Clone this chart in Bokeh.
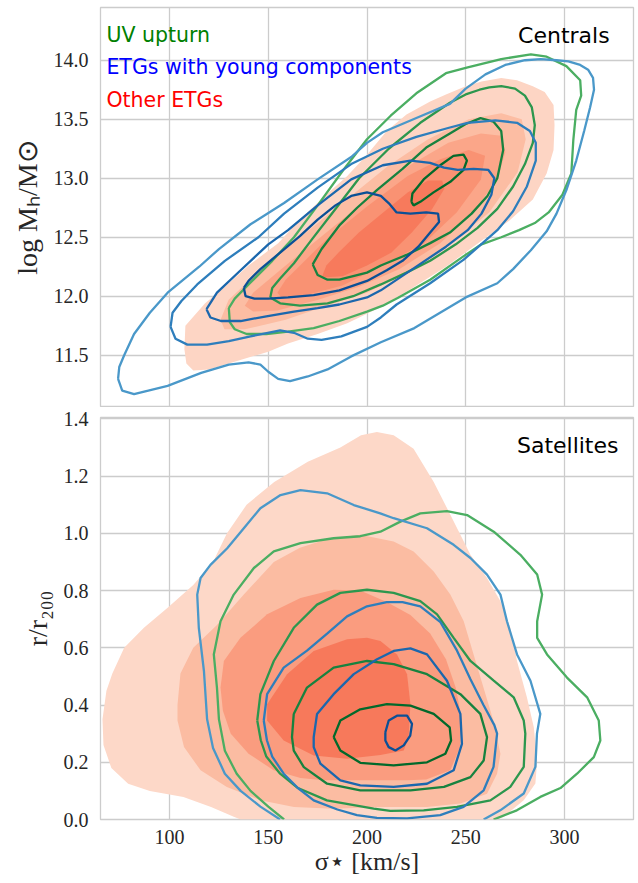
from bokeh.plotting import figure
from bokeh.layouts import column
from bokeh.models import Range1d, FixedTicker, NumeralTickFormatter, Label
from bokeh.embed import file_html
from bokeh.resources import INLINE

# ------------------------------------------------------------------ data
sigma_ticks = [100, 150, 200, 250, 300]
cen_ticks = [11.5, 12.0, 12.5, 13.0, 13.5, 14.0]
sat_ticks = [0.0, 0.2, 0.4, 0.6, 0.8, 1.0, 1.2, 1.4]

legend_names = ["UV upturn", "ETGs with young components", "Other ETGs"]
legend_colors = ["#008000", "#0000ff", "#ff0000"]
panel_names = ["Centrals", "Satellites"]

# KDE contour levels (outer -> inner): sigma [km/s]
# Centrals: log M_H
cen_other_x = [
    [108, 107.5, 108.5, 112, 120, 130, 140, 150, 160, 175, 190, 206, 222, 240, 258, 272, 284, 291, 294.5, 295,
     294.5, 290, 284, 276, 268, 258, 250, 240, 232, 220, 210, 200, 190, 180, 166, 155, 140, 128, 118],
    [125.8, 129.9, 148.5, 169.1, 189.7, 210.3, 230.9, 251.5, 268, 278.4, 280.4, 276.3, 261.9, 241.2, 220.6,
     200, 179.4, 158.8, 138.1, 127.8],
    [138.1, 142.3, 158.8, 179.4, 200, 220.6, 241.2, 257.7, 268, 270.1, 266, 253.6, 237.1, 216.5, 195.9, 175.3,
     154.6, 142.3],
    [154.6, 158.8, 179.4, 200, 220.6, 237.1, 251.5, 259.8, 257.7, 245.4, 228.9, 208.2, 187.6, 167, 156.7],
    [177.3, 179.4, 185.6, 195.9, 208.2, 220.6, 230.9, 238.1, 239.2, 233, 222.7, 212.4, 200, 187.6, 179.4],
]
cen_other_y = [
    [11.75, 11.55, 11.43, 11.37, 11.38, 11.43, 11.48, 11.53, 11.60, 11.68, 11.77, 11.90, 12.06, 12.25, 12.47,
     12.64, 12.82, 13.04, 13.24, 13.45, 13.62, 13.73, 13.78, 13.83, 13.85, 13.82, 13.78, 13.71, 13.65, 13.54,
     13.40, 13.20, 13.02, 12.87, 12.65, 12.45, 12.26, 12.08, 11.94],
    [11.80, 11.97, 12.26, 12.54, 12.82, 13.10, 13.33, 13.50, 13.55, 13.50, 13.33, 13.05, 12.71, 12.43, 12.20,
     12.03, 11.92, 11.80, 11.72, 11.72],
    [11.92, 12.03, 12.26, 12.54, 12.82, 13.10, 13.30, 13.38, 13.36, 13.22, 12.99, 12.71, 12.45, 12.23, 12.08,
     11.97, 11.88, 11.87],
    [12.03, 12.14, 12.48, 12.76, 13.02, 13.16, 13.24, 13.19, 12.99, 12.71, 12.45, 12.26, 12.09, 12.00, 11.99],
    [12.17, 12.26, 12.37, 12.54, 12.71, 12.88, 12.98, 12.98, 12.91, 12.74, 12.54, 12.37, 12.26, 12.17, 12.16],
]
cen_uv_x = [
    [130, 130.5, 133, 139, 149, 160, 173, 186, 200, 208, 216, 232, 249, 258, 268, 277, 285, 292, 299, 303.5,
     304.5, 306, 308.5, 308, 301, 291, 283, 268, 251, 240, 225, 212, 200, 188, 175, 163, 152, 140, 133],
    [151, 156, 166, 180, 193, 207, 220, 232, 245, 256, 266, 274, 280, 284, 285, 283.5, 280, 275, 268, 262, 257,
     250, 242, 227, 211, 196, 184.5, 172, 163, 156, 152],
    [172.5, 175, 180, 186, 200, 207, 220, 232, 242, 253, 261, 266, 269, 268, 264, 257.5, 250, 242, 230, 218,
     205, 195, 186, 177],
    [222.5, 223, 228.7, 237.1, 243.8, 248.9, 250.6, 248.9, 242.2, 233.7, 227, 223.6],
]
cen_uv_y = [
    [11.90, 11.78, 11.72, 11.68, 11.68, 11.70, 11.73, 11.79, 11.87, 11.92, 11.99, 12.14, 12.34, 12.44, 12.50,
     12.56, 12.62, 12.71, 12.86, 13.04, 13.32, 13.58, 13.70, 13.83, 13.95, 14.03, 14.05, 14.01, 13.94, 13.89,
     13.72, 13.53, 13.33, 13.07, 12.77, 12.50, 12.30, 12.10, 11.98],
    [11.99, 11.94, 11.92, 11.94, 12.00, 12.10, 12.20, 12.30, 12.44, 12.58, 12.74, 12.93, 13.12, 13.30, 13.45,
     13.60, 13.70, 13.76, 13.78, 13.77, 13.75, 13.71, 13.64, 13.47, 13.25, 13.00, 12.75, 12.48, 12.28, 12.15,
     12.07],
    [12.27, 12.18, 12.14, 12.14, 12.20, 12.26, 12.35, 12.45, 12.54, 12.70, 12.85, 13.00, 13.24, 13.40, 13.48,
     13.51, 13.46, 13.38, 13.26, 13.08, 12.90, 12.75, 12.60, 12.40],
    [12.80, 12.87, 12.99, 13.11, 13.19, 13.20, 13.15, 13.07, 12.97, 12.88, 12.80, 12.77],
]
cen_young_x = [
    [73.9, 76, 82, 99, 116, 130, 140, 146, 150, 155, 161, 170, 180, 192, 207, 224, 250, 266, 274, 283, 291, 296,
     301, 306, 310, 313, 315, 314.5, 312, 308, 302, 296, 288, 280, 270, 260, 250, 242, 225, 208, 200, 192, 175,
     158, 141, 125, 115, 99, 90, 82, 77, 74.5],
    [100.5, 103, 109, 119, 130, 141, 156, 163, 170, 177, 187, 200, 207, 215, 232, 249, 266, 274, 281, 285.5,
     285.5, 282.5, 276, 265, 251, 242, 225, 208, 192, 175, 158, 145, 128, 114, 106, 101.5],
    [118.7, 120.7, 126, 136, 149, 163, 175, 186, 200, 207, 224, 240, 251, 258, 263, 264.5, 261.5, 254, 246, 239,
     232, 222, 208, 192, 175, 160, 150, 136, 124],
    [137.6, 138.5, 143, 150, 160, 173, 186, 200, 210, 218, 226, 232, 236.5, 236, 230, 222, 215, 211.5, 207, 200,
     192, 184, 175, 166, 156, 146, 140],
]
cen_young_y = [
    [11.30, 11.20, 11.17, 11.24, 11.35, 11.42, 11.44, 11.42, 11.36, 11.30, 11.28, 11.32, 11.38, 11.49, 11.61,
     11.73, 11.99, 12.11, 12.23, 12.39, 12.55, 12.70, 12.90, 13.15, 13.40, 13.60, 13.75, 13.85, 13.92, 13.96,
     13.99, 14.00, 14.01, 14.00, 13.96, 13.88, 13.76, 13.63, 13.51, 13.39, 13.30, 13.18, 12.99, 12.79, 12.61,
     12.40, 12.25, 12.03, 11.86, 11.68, 11.50, 11.40],
    [11.74, 11.64, 11.59, 11.59, 11.62, 11.66, 11.71, 11.69, 11.64, 11.63, 11.66, 11.74, 11.82, 11.93, 12.11,
     12.31, 12.56, 12.72, 12.93, 13.15, 13.30, 13.40, 13.47, 13.49, 13.47, 13.43, 13.35, 13.25, 13.12, 12.92,
     12.70, 12.50, 12.30, 12.10, 11.96, 11.86],
    [11.89, 11.82, 11.79, 11.79, 11.83, 11.87, 11.90, 11.93, 11.99, 12.05, 12.24, 12.42, 12.56, 12.70, 12.86,
     13.00, 13.07, 13.08, 13.07, 13.09, 13.13, 13.15, 13.11, 12.99, 12.77, 12.56, 12.44, 12.22, 12.03],
    [12.07, 12.00, 11.98, 11.98, 11.99, 12.01, 12.05, 12.13, 12.22, 12.30, 12.42, 12.54, 12.63, 12.70, 12.71,
     12.70, 12.71, 12.78, 12.85, 12.88, 12.85, 12.77, 12.65, 12.51, 12.37, 12.23, 12.13],
]

# Satellites: r / r200
sat_other_x = [
    [136, 132.5, 121, 107, 90, 79, 70.5, 66.5, 66, 68, 71, 77, 87, 99, 112, 122, 129, 139, 153, 170, 186.5, 197,
     205, 213.5, 223.6, 233.8, 244, 252.4, 260.8, 267.6, 272.6, 276, 281, 284.5, 286.2, 285.3, 279.4, 269.2,
     266],
    [104, 105.5, 112, 124, 137.6, 152.8, 166, 180, 196.6, 213.5, 223.6, 233.8, 242.2, 249, 254, 259, 264, 267.6,
     265.9, 260.8, 247.3, 230.4, 206.7, 183, 163, 146, 129, 115.7, 107.3, 104],
    [125.8, 127.5, 135.9, 149.4, 166.3, 183.1, 196.6, 210, 222, 232, 240, 245, 248, 247, 242.2, 230, 220.3, 205,
     178, 166.3, 152.7, 140, 131, 127],
    [149.4, 159.5, 173, 189.9, 200, 206.8, 215.2, 220.3, 222, 221.1, 218.6, 206.8, 189.9, 173, 157.8, 149.4],
]
sat_other_y = [
    [0.0, 0.01, 0.044, 0.079, 0.10, 0.125, 0.18, 0.26, 0.35, 0.45, 0.51, 0.60, 0.67, 0.74, 0.82, 0.90, 1.0, 1.10,
     1.18, 1.25, 1.30, 1.343, 1.354, 1.343, 1.296, 1.18, 1.041, 0.925, 0.844, 0.763, 0.67, 0.554, 0.427, 0.322,
     0.206, 0.126, 0.067, 0.009, 0.0],
    [0.40, 0.51, 0.60, 0.68, 0.786, 0.90, 0.95, 0.98, 0.995, 0.972, 0.937, 0.867, 0.786, 0.693, 0.577, 0.461,
     0.346, 0.23, 0.16, 0.09, 0.056, 0.044, 0.044, 0.038, 0.044, 0.067, 0.114, 0.172, 0.253, 0.346],
    [0.461, 0.554, 0.635, 0.717, 0.774, 0.803, 0.80, 0.76, 0.715, 0.65, 0.56, 0.46, 0.35, 0.25, 0.172, 0.14,
     0.137, 0.137, 0.137, 0.145, 0.172, 0.23, 0.30, 0.38],
    [0.403, 0.508, 0.589, 0.63, 0.635, 0.624, 0.577, 0.508, 0.403, 0.288, 0.241, 0.225, 0.212, 0.224, 0.276,
     0.346],
]
sat_uv_x = [
    [158, 150, 141, 134, 128, 125, 124, 122.4, 125.8, 132.5, 142.7, 152.8, 166.3, 183.1, 196.6, 206.8, 216.9,
     227, 240.5, 250.7, 264.2, 277.7, 286.2, 288.7, 286.2, 286.2, 291.2, 301.3, 311.5, 317.4, 318.2, 314.9,
     306.4, 298, 287.8, 275.9, 264.1],
    [144.4, 146, 152.8, 162.9, 174.7, 186.5, 200, 213.5, 227, 235.5, 243.9, 252.4, 264.2, 274.3, 279.4, 280.2,
     279.4, 272.6, 262.5, 245.6, 228.7, 211.8, 203.4, 179.7, 165, 156, 149, 146.2],
    [162.9, 169.6, 183.1, 200, 213.5, 230.4, 247.3, 257.4, 260.8, 259.1, 252.4, 239, 222, 205.1, 196.6, 179.8,
     168, 162.9, 162],
    [183.1, 186.5, 196.6, 210.1, 222, 233.8, 241.9, 242.6, 239.7, 230.4, 213.5, 196.6, 186.5],
]
sat_uv_y = [
    [0.0, 0.045, 0.10, 0.16, 0.24, 0.35, 0.46, 0.577, 0.693, 0.786, 0.879, 0.937, 0.966, 0.983, 0.99, 1.006,
     1.041, 1.07, 1.078, 1.064, 1.006, 0.925, 0.856, 0.786, 0.693, 0.635, 0.577, 0.496, 0.427, 0.346, 0.276,
     0.218, 0.16, 0.11, 0.079, 0.032, 0.0],
    [0.346, 0.438, 0.554, 0.67, 0.751, 0.792, 0.803, 0.792, 0.763, 0.717, 0.635, 0.554, 0.485, 0.427, 0.346,
     0.30, 0.184, 0.114, 0.067, 0.044, 0.032, 0.03, 0.038, 0.067, 0.11, 0.16, 0.22, 0.277],
    [0.369, 0.461, 0.531, 0.554, 0.543, 0.508, 0.438, 0.369, 0.288, 0.206, 0.148, 0.114, 0.102, 0.102, 0.102,
     0.125, 0.183, 0.241, 0.288],
    [0.288, 0.346, 0.385, 0.403, 0.398, 0.369, 0.322, 0.276, 0.23, 0.2, 0.189, 0.198, 0.241],
]
sat_young_x = [
    [156, 146, 136, 128, 122, 119, 117.4, 114.8, 114, 115.7, 120.7, 129.2, 137.6, 146, 156.2, 166.3, 179.8,
     193.3, 206.7, 213.5, 230.4, 243.9, 252.4, 260.8, 267.6, 270.9, 276, 282.8, 287.8, 286.1, 285.3, 279.4,
     267.5, 259.1],
    [147.7, 149.4, 157.8, 169.6, 179.8, 189.9, 200, 210, 218, 227, 237.2, 245.6, 252.4, 259, 264.5, 265.9, 264.1,
     259.1, 248.9, 237.1, 220.3, 205, 194.9, 185, 173, 165, 157.8, 152, 149.3],
    [173, 174.7, 183.1, 193.3, 205.1, 213.5, 222, 230.4, 240.5, 247.3, 248.1, 243.9, 230.4, 213.5, 196.6, 186.5,
     176.4, 173],
    [209.3, 211, 215.2, 220.3, 222.8, 221.9, 218.6, 214.4, 211, 209.3],
]
sat_young_y = [
    [0.0, 0.045, 0.10, 0.16, 0.25, 0.35, 0.519, 0.67, 0.786, 0.844, 0.89, 0.948, 1.018, 1.088, 1.134, 1.151,
     1.14, 1.099, 1.07, 1.053, 1.018, 0.96, 0.914, 0.856, 0.786, 0.693, 0.577, 0.485, 0.369, 0.30, 0.184, 0.091,
     0.032, 0.0],
    [0.346, 0.438, 0.531, 0.59, 0.65, 0.71, 0.745, 0.76, 0.76, 0.745, 0.69, 0.59, 0.49, 0.40, 0.33, 0.30, 0.184,
     0.102, 0.044, 0.015, 0.004, 0.006, 0.015, 0.035, 0.067, 0.11, 0.16, 0.22, 0.277],
    [0.288, 0.369, 0.438, 0.508, 0.56, 0.589, 0.598, 0.577, 0.485, 0.369, 0.264, 0.172, 0.125, 0.114, 0.119,
     0.137, 0.195, 0.253],
    [0.305, 0.346, 0.363, 0.363, 0.334, 0.293, 0.259, 0.241, 0.253, 0.276],
]

# ------------------------------------------------------------------ style
cen_reds = ["#fdd5c4", "#fcbda3", "#fba689", "#f99273", "#f77a5c"]
sat_reds = ["#fdd8c8", "#fbbca2", "#fa9c7f", "#f7795b"]
greens = ["#4bae62", "#2c974e", "#17823f", "#02692b"]
blues = ["#4a98c9", "#2e7ebc", "#1b67ad", "#0b5096"]

TICK_FONT = "Liberation Serif"
SANS = "DejaVu Sans"
GRID = "#cccccc"
X_RANGE = (65, 335)


def closed(xs, ys):
    if ys[0] == 0 and ys[-1] == 0:
        return list(xs), list(ys)
    return list(xs) + [xs[0]], list(ys) + [ys[0]]


def style(p, yticks, ylabel, ylabel_size):
    p.outline_line_color = GRID
    p.outline_line_width = 1.3
    p.xgrid.grid_line_color = GRID
    p.ygrid.grid_line_color = GRID
    p.xgrid.grid_line_width = 1.3
    p.ygrid.grid_line_width = 1.3
    p.xaxis.ticker = FixedTicker(ticks=sigma_ticks)
    p.yaxis.ticker = FixedTicker(ticks=yticks)
    p.yaxis.formatter = NumeralTickFormatter(format="0.0")
    for ax in (p.xaxis[0], p.yaxis[0]):
        ax.axis_line_color = None
        ax.major_tick_line_color = None
        ax.minor_tick_line_color = None
        ax.major_tick_out = 0
        ax.major_tick_in = 0
        ax.major_label_standoff = 12
        ax.major_label_text_font = TICK_FONT
        ax.major_label_text_font_size = "20px"
        ax.major_label_text_color = "#262626"
        ax.axis_label_text_font = TICK_FONT
        ax.axis_label_text_font_size = "26px"
        ax.axis_label_text_font_style = "normal"
        ax.axis_label_text_color = "#262626"
    p.yaxis.axis_label = ylabel
    p.yaxis.axis_label_text_font_size = ylabel_size
    p.yaxis.axis_label_standoff = 8


def draw(p, other_x, other_y, reds, uv_x, uv_y, young_x, young_y):
    px, py = [], []
    for xs, ys in zip(other_x, other_y):
        a, b = closed(xs, ys)
        px.append(a)
        py.append(b)
    p.patches(xs=px, ys=py, fill_color=reds[:len(px)], line_color=None)
    for gx, gy, cols in ((uv_x, uv_y, greens), (young_x, young_y, blues)):
        lx, ly = [], []
        for xs, ys in zip(gx, gy):
            a, b = closed(xs, ys)
            lx.append(a)
            ly.append(b)
        p.multi_line(xs=lx, ys=ly, line_color=cols[:len(lx)], line_width=2.3)


x_range = Range1d(*X_RANGE)

top = figure(frame_width=533, frame_height=400, x_range=x_range, y_range=Range1d(11.057, 14.447),
             output_backend="svg", toolbar_location=None,
             min_border_left=100, min_border_right=5, min_border_top=7, min_border_bottom=0,
             background_fill_color="white", border_fill_color="white")
style(top, cen_ticks, "log Mₕ/M⊙", "28px")
top.xaxis.visible = False
draw(top, cen_other_x, cen_other_y, cen_reds, cen_uv_x, cen_uv_y, cen_young_x, cen_young_y)

leg_y = [14.210, 13.941, 13.665]
for name, col, yy in zip(legend_names, legend_colors, leg_y):
    top.add_layout(Label(x=68.0, y=yy, text=name, text_color=col, text_font=SANS,
                         text_font_size="20.5px", text_baseline="alphabetic", text_align="left"))
top.add_layout(Label(x=322.9, y=14.213, text=panel_names[0], text_color="black", text_font=SANS,
                     text_font_size="22px", text_baseline="alphabetic", text_align="right"))

bot = figure(frame_width=533, frame_height=402, x_range=x_range, y_range=Range1d(0.0, 1.405),
             output_backend="svg", toolbar_location=None,
             min_border_left=100, min_border_right=5, min_border_top=10, min_border_bottom=5,
             background_fill_color="white", border_fill_color="white")
style(bot, sat_ticks, "r/r₂₀₀", "28px")
bot.xaxis.axis_label = "σ⋆ [km/s]"
bot.xaxis.major_label_standoff = 10
bot.xaxis.axis_label_standoff = 0
draw(bot, sat_other_x, sat_other_y, sat_reds, sat_uv_x, sat_uv_y, sat_young_x, sat_young_y)
bot.add_layout(Label(x=327.4, y=1.307, text=panel_names[1], text_color="black", text_font=SANS,
                     text_font_size="22px", text_baseline="alphabetic", text_align="right"))

layout = column(top, bot, spacing=0)
open("out.html", "w").write(file_html(layout, INLINE))
